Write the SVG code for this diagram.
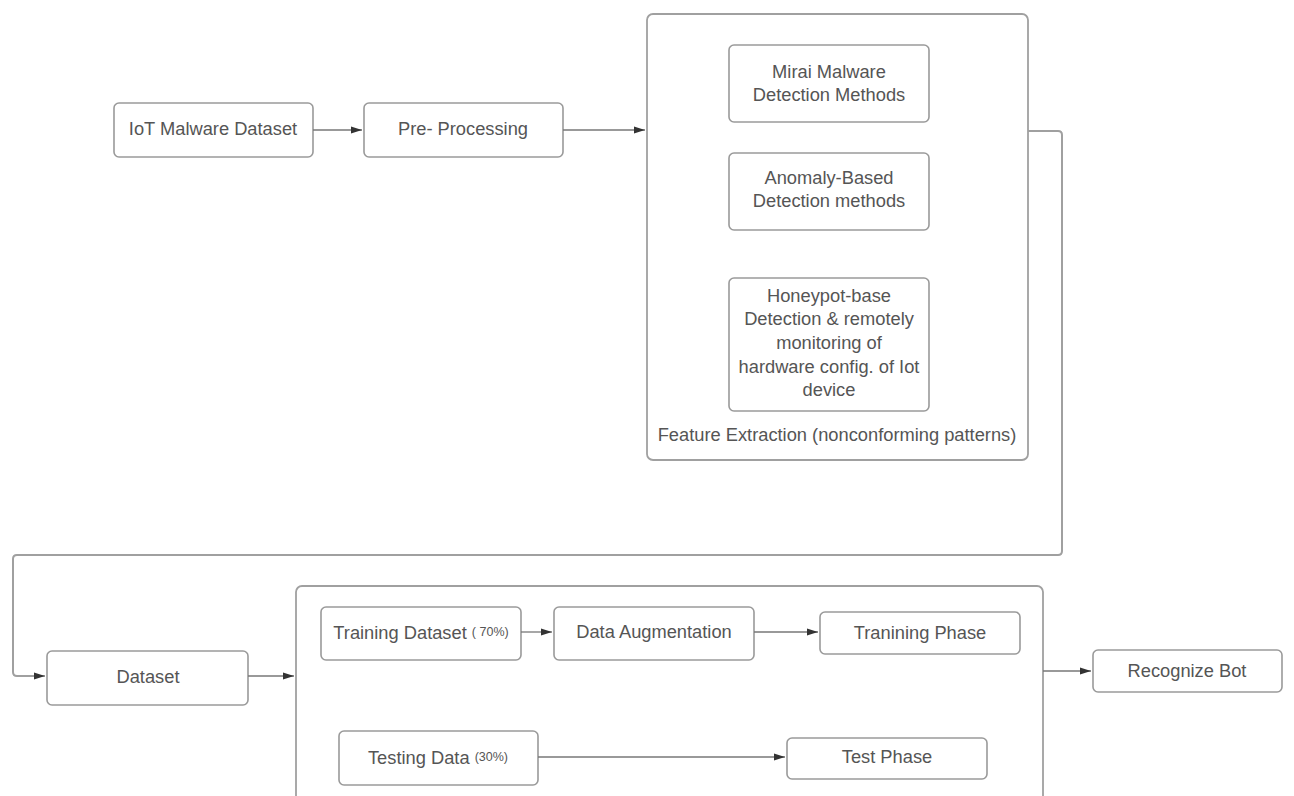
<svg xmlns="http://www.w3.org/2000/svg" width="1294" height="796" viewBox="0 0 1294 796">
<defs>
<marker id="ah" markerWidth="12" markerHeight="8" refX="11" refY="4" orient="auto" markerUnits="userSpaceOnUse">
<path d="M0,0.5 L11,4 L0,7.5 Z" fill="#333"/>
</marker>
<style>
.box{fill:#fff;stroke:#9a9a9a;stroke-width:1.6}
.cont{fill:#fff;stroke:#a0a0a0;stroke-width:1.8}
.t{font-family:"Liberation Sans",Arial,sans-serif;font-size:18.3px;fill:#555;text-anchor:middle;dominant-baseline:central}
.s{font-size:12.5px}
.c{fill:none;stroke:#777;stroke-width:1.3}
.cl{fill:none;stroke:#a0a0a0;stroke-width:2}
</style>
</defs>
<rect width="1294" height="796" fill="#fff"/>
<g id="feature-extraction">
<rect class="cont" x="647" y="14" width="381" height="446" rx="6"/>
<text class="t" x="837" y="434">Feature Extraction (nonconforming patterns)</text>
</g>
<g id="model-block">
<rect class="cont" x="296" y="586" width="747" height="230" rx="6"/>
</g>
<g id="iot-dataset">
<rect class="box" x="114" y="103" width="199" height="54" rx="5"/>
<text class="t" x="213" y="128">IoT Malware Dataset</text>
</g>
<g id="pre-processing">
<rect class="box" x="364" y="103" width="199" height="54" rx="5"/>
<text class="t" x="463" y="128">Pre- Processing</text>
</g>
<g id="mirai">
<rect class="box" x="729" y="45" width="200" height="77" rx="5"/>
<text class="t" x="829" y="71">Mirai Malware</text>
<text class="t" x="829" y="94">Detection Methods</text>
</g>
<g id="anomaly">
<rect class="box" x="729" y="153" width="200" height="77" rx="5"/>
<text class="t" x="829" y="177">Anomaly-Based</text>
<text class="t" x="829" y="200">Detection methods</text>
</g>
<g id="honeypot">
<rect class="box" x="729" y="278" width="200" height="133" rx="5"/>
<text class="t" x="829" y="295">Honeypot-base</text>
<text class="t" x="829" y="318">Detection &amp; remotely</text>
<text class="t" x="829" y="342">monitoring of</text>
<text class="t" x="829" y="366">hardware config. of Iot</text>
<text class="t" x="829" y="389">device</text>
</g>
<g id="dataset">
<rect class="box" x="47" y="651" width="201" height="54" rx="5"/>
<text class="t" x="148" y="676">Dataset</text>
</g>
<g id="training-dataset">
<rect class="box" x="321" y="607" width="200" height="53" rx="5"/>
<text class="t" x="421" y="632">Training Dataset <tspan class="s">( 70%)</tspan></text>
</g>
<g id="data-augmentation">
<rect class="box" x="554" y="607" width="200" height="53" rx="5"/>
<text class="t" x="654" y="631">Data Augmentation</text>
</g>
<g id="training-phase">
<rect class="box" x="820" y="612" width="200" height="42" rx="5"/>
<text class="t" x="920" y="632">Tranining Phase</text>
</g>
<g id="testing-data">
<rect class="box" x="339" y="731" width="199" height="54" rx="5"/>
<text class="t" x="438" y="757">Testing Data <tspan class="s">(30%)</tspan></text>
</g>
<g id="test-phase">
<rect class="box" x="787" y="738" width="200" height="41" rx="5"/>
<text class="t" x="887" y="756">Test Phase</text>
</g>
<g id="recognize-bot">
<rect class="box" x="1093" y="650" width="189" height="42" rx="5"/>
<text class="t" x="1187" y="670">Recognize Bot</text>
</g>
<g id="connectors">
<line class="c" x1="313" y1="130" x2="362" y2="130" marker-end="url(#ah)"/>
<line class="c" x1="563" y1="130" x2="645" y2="130" marker-end="url(#ah)"/>
<path class="cl" d="M1028,131 H1058 Q1062,131 1062,135 V551 Q1062,555 1058,555 H17 Q13,555 13,559 V672 Q13,676 17,676 H45" marker-end="url(#ah)"/>
<line class="c" x1="248" y1="676" x2="294" y2="676" marker-end="url(#ah)"/>
<line class="c" x1="521" y1="632" x2="552" y2="632" marker-end="url(#ah)"/>
<line class="c" x1="754" y1="632" x2="818" y2="632" marker-end="url(#ah)"/>
<line class="c" x1="538" y1="757" x2="785" y2="757" marker-end="url(#ah)"/>
<line class="c" x1="1043" y1="671" x2="1091" y2="671" marker-end="url(#ah)"/>
</g>
</svg>
